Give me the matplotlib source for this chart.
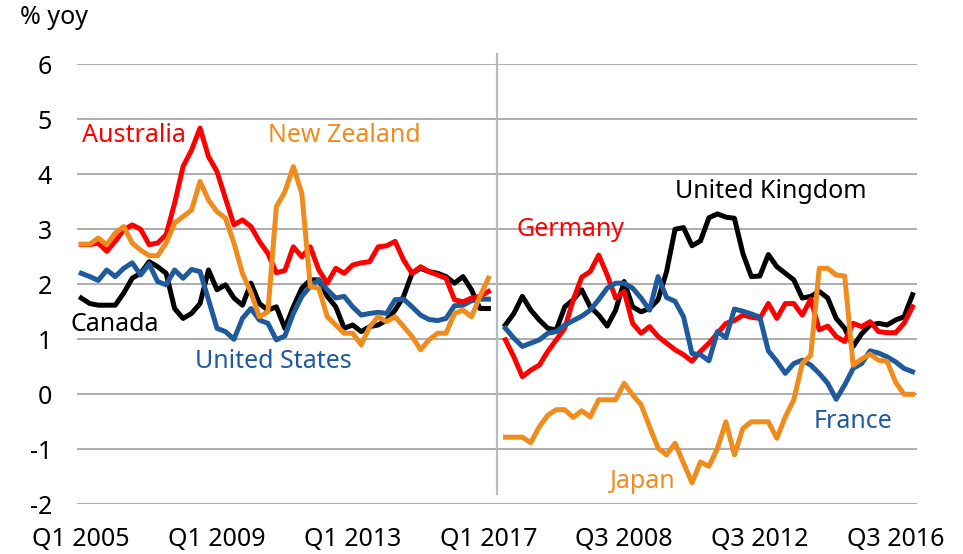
import numpy as np
import matplotlib
matplotlib.use("Agg")
import matplotlib.pyplot as plt

plt.rcParams["font.family"] = ["Noto Sans", "DejaVu Sans"]
plt.rcParams["axes.unicode_minus"] = False

# quarterly, Q1 2005 .. Q1 2017 (49 quarters) in each panel
australia = [2.72, 2.72, 2.75, 2.6, 2.78, 2.99, 3.08, 3.0, 2.72, 2.75, 2.9, 3.47, 4.14, 4.44, 4.84,
             4.32, 4.05, 3.56, 3.08, 3.17, 3.05, 2.78, 2.56, 2.21, 2.25, 2.68, 2.5, 2.68, 2.26, 2.02,
             2.29, 2.2, 2.35, 2.39, 2.41, 2.68, 2.7, 2.78, 2.44, 2.2, 2.32, 2.23, 2.17, 2.11, 1.72,
             1.68, 1.75, 1.78, 1.87]
new_zealand = [2.73, 2.73, 2.84, 2.72, 2.93, 3.05, 2.75, 2.62, 2.52, 2.52, 2.75, 3.11, 3.23, 3.35,
               3.87, 3.53, 3.32, 3.2, 2.75, 2.2, 1.85, 1.41, 1.5, 3.41, 3.68, 4.14, 3.65, 1.96, 1.93,
               1.41, 1.26, 1.11, 1.11, 0.9, 1.23, 1.41, 1.32, 1.41, 1.23, 1.05, 0.81, 0.99, 1.11,
               1.11, 1.47, 1.53, 1.41, 1.78, 2.11]
canada = [1.75, 1.65, 1.62, 1.62, 1.62, 1.84, 2.11, 2.2, 2.41, 2.32, 2.2, 1.56, 1.38, 1.47, 1.65,
          2.26, 1.9, 1.99, 1.75, 1.62, 2.02, 1.65, 1.53, 1.59, 1.2, 1.59, 1.93, 2.08, 2.08, 1.78,
          1.59, 1.2, 1.26, 1.14, 1.23, 1.26, 1.35, 1.53, 1.78, 2.2, 2.29, 2.23, 2.2, 2.14, 2.02,
          2.14, 1.9, 1.56, 1.56]
united_states = [2.2, 2.14, 2.07, 2.26, 2.14, 2.29, 2.39, 2.17, 2.37, 2.05, 1.99, 2.26, 2.11, 2.27,
                 2.23, 1.72, 1.2, 1.14, 1.0, 1.38, 1.56, 1.35, 1.29, 0.99, 1.06, 1.47, 1.78, 1.96,
                 2.08, 1.9, 1.75, 1.78, 1.59, 1.44, 1.47, 1.49, 1.47, 1.72, 1.73, 1.59, 1.44, 1.36,
                 1.34, 1.38, 1.61, 1.62, 1.7, 1.73, 1.73]

germany = [0.99, 0.68, 0.32, 0.44, 0.53, 0.78, 0.99, 1.2, 1.72, 2.13, 2.23, 2.53, 2.17, 1.75, 1.87,
           1.29, 1.11, 1.23, 1.05, 0.93, 0.81, 0.72, 0.6, 0.78, 0.93, 1.11, 1.29, 1.34, 1.44, 1.4,
           1.38, 1.65, 1.38, 1.65, 1.65, 1.44, 1.73, 1.17, 1.24, 1.05, 0.96, 1.29, 1.23, 1.32, 1.14,
           1.12, 1.12, 1.29, 1.59]
japan = [-0.78, -0.78, -0.78, -0.88, -0.59, -0.38, -0.28, -0.28, -0.42, -0.3, -0.41, -0.1, -0.1,
         -0.1, 0.2, -0.01, -0.19, -0.59, -0.98, -1.1, -0.89, -1.25, -1.61, -1.23, -1.31, -0.98, -0.5,
         -1.1, -0.62, -0.5, -0.5, -0.5, -0.8, -0.41, -0.1, 0.56, 0.71, 2.29, 2.29, 2.17, 2.15, 0.53,
         0.64, 0.73, 0.62, 0.6, 0.22, 0.0, 0.0]
united_kingdom = [1.26, 1.47, 1.78, 1.53, 1.35, 1.2, 1.17, 1.59, 1.72, 1.9, 1.59, 1.44, 1.24, 1.53,
                  2.05, 1.59, 1.5, 1.56, 1.72, 2.23, 3.0, 3.03, 2.7, 2.79, 3.21, 3.28, 3.22, 3.2,
                  2.56, 2.14, 2.15, 2.54, 2.32, 2.2, 2.08, 1.75, 1.78, 1.87, 1.75, 1.38, 1.2, 0.87,
                  1.1, 1.26, 1.29, 1.26, 1.35, 1.41, 1.81]
france = [1.2, 1.02, 0.87, 0.93, 0.99, 1.11, 1.14, 1.26, 1.34, 1.42, 1.53, 1.72, 1.93, 2.02, 2.02,
          1.93, 1.75, 1.53, 2.14, 1.76, 1.69, 1.41, 0.74, 0.72, 0.61, 1.14, 1.03, 1.55, 1.51, 1.46,
          1.4, 0.79, 0.6, 0.38, 0.56, 0.62, 0.53, 0.38, 0.2, -0.09, 0.17, 0.47, 0.56, 0.79, 0.75,
          0.68, 0.59, 0.47, 0.41]

tick_labels = ["Q1 2005", "Q1 2009", "Q1 2013", "Q1 2017", "Q3 2008", "Q3 2012", "Q3 2016"]

RED = "#FF0000"
ORANGE = "#F08C1E"
BLUE = "#1F5A9C"
BLACK = "#000000"

x_left = np.arange(len(australia))
x_right = np.arange(len(germany)) + len(australia) + 1

fig = plt.figure(figsize=(9.63, 5.54), dpi=100)
ax = fig.add_axes([0.080, 0.0897, 0.872, 0.7943])

for y in range(-2, 7):
    ax.axhline(y, color="#A0A0A0", lw=1.2, zorder=1)
ax.plot([len(australia), len(australia)], [-1.81, 6.19], color="#B4BCC4", lw=1.6,
        zorder=1, clip_on=False)

lw = 3.6
ax.plot(x_left, canada, color=BLACK, lw=lw, zorder=3)
ax.plot(x_left, united_states, color=BLUE, lw=lw, zorder=3)
ax.plot(x_left, australia, color=RED, lw=lw, zorder=3)
ax.plot(x_left, new_zealand, color=ORANGE, lw=lw, zorder=4)

ax.plot(x_right, united_kingdom, color=BLACK, lw=lw, zorder=3)
ax.plot(x_right, germany, color=RED, lw=lw, zorder=3)
ax.plot(x_right, france, color=BLUE, lw=lw, zorder=3)
ax.plot(x_right, japan, color=ORANGE, lw=lw, zorder=4)

fs = 18
ax.text(0.1, 4.7, "Australia", color=RED, fontsize=fs, va="center")
ax.text(22.0, 4.7, "New Zealand", color=ORANGE, fontsize=fs, va="center")
ax.text(-1.3, 1.26, "Canada", color=BLACK, fontsize=fs, va="center")
ax.text(13.4, 0.59, "United States", color=BLUE, fontsize=fs, va="center")
ax.text(51.3, 3.0, "Germany", color=RED, fontsize=fs, va="center")
ax.text(70.0, 3.68, "United Kingdom", color=BLACK, fontsize=fs, va="center")
ax.text(86.3, -0.5, "France", color=BLUE, fontsize=fs, va="center")
ax.text(62.3, -1.58, "Japan", color=ORANGE, fontsize=fs, va="center")

ax.set_xlim(-0.5, 98.5)
ax.set_ylim(-2, 6)
ax.set_yticks(range(-2, 7))
ax.set_xticks(np.arange(0, 97, 16))
ax.set_xticklabels(tick_labels)
ax.tick_params(axis="both", length=0, labelsize=fs, colors=BLACK)
ax.tick_params(axis="y", pad=18)
ax.tick_params(axis="x", pad=16)
for s in ax.spines.values():
    s.set_visible(False)

fig.text(20 / 963, 1 - 18 / 554, "% yoy", fontsize=fs, va="center", ha="left")

fig.savefig("out.png", dpi=100)
